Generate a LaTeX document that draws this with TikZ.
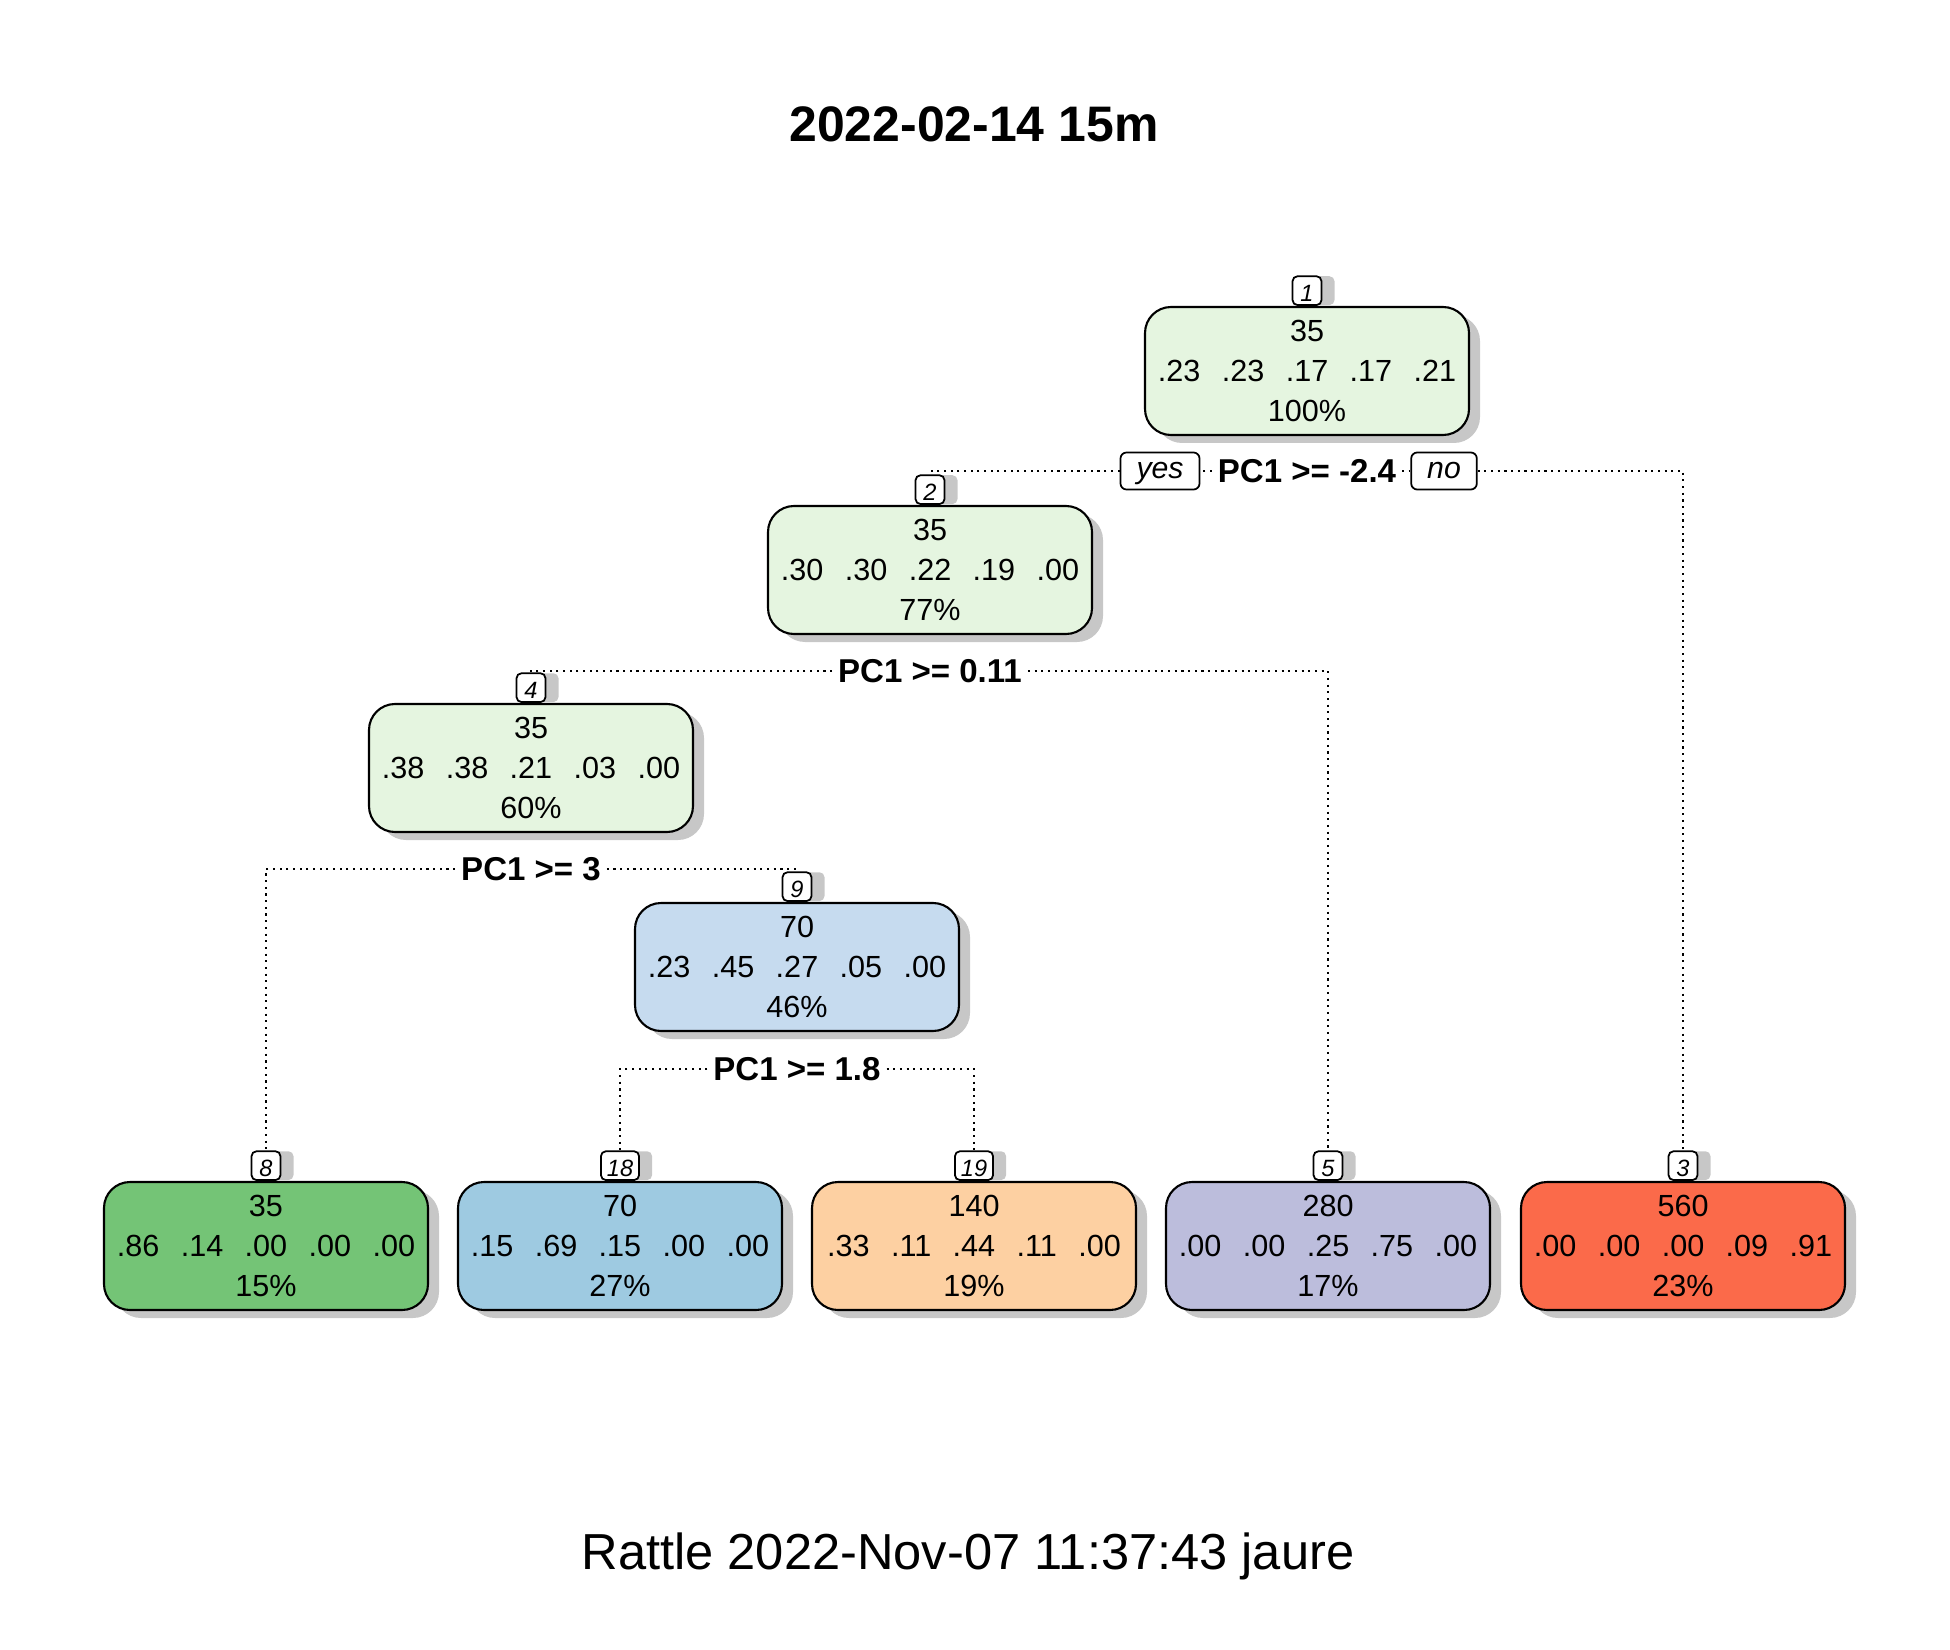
\documentclass[tikz,border=0pt]{standalone}
\usepackage{fontspec}
\setmainfont{Liberation Sans}
\usetikzlibrary{shadows}
\definecolor{palegreen}{HTML}{E5F5E0}
\definecolor{paleblue}{HTML}{C6DBEF}
\definecolor{leafgreen}{HTML}{74C476}
\definecolor{leafblue}{HTML}{9ECAE1}
\definecolor{leaforange}{HTML}{FDD0A2}
\definecolor{leafpurple}{HTML}{BCBDDC}
\definecolor{leafred}{HTML}{FB6A4A}
\newcommand{\gp}{\hspace{0.7em}}
\tikzset{
  treebox/.style={draw, line width=0.6pt, rounded corners=2.6mm, minimum width=32.4mm, minimum height=12.8mm,
    align=center, inner sep=0pt, font=\fontsize{8.7}{11.4}\selectfont,
    drop shadow={shadow xshift=1.1mm, shadow yshift=-0.8mm, fill=black!22, opacity=1}},
  nodenum/.style={draw, fill=white, line width=0.5pt, rounded corners=0.5mm, anchor=south, inner xsep=0.6mm, inner ysep=0pt,
    minimum width=2.9mm, minimum height=2.8mm, text height=0.72em, text depth=0.1em, font=\fontsize{6.7}{8}\selectfont\itshape,
    drop shadow={shadow xshift=1.3mm, shadow yshift=0mm, fill=black!22, opacity=1}},
  splitlabel/.style={fill=white, inner sep=1.5pt, font=\fontsize{9.4}{11}\selectfont\bfseries},
  yesno/.style={draw, fill=white, line width=0.5pt, rounded corners=0.6mm, inner xsep=1.6mm, inner ysep=0pt,
    minimum height=3.7mm, text height=0.62em, text depth=0.2em, font=\fontsize{8.6}{10}\selectfont\itshape},
  edge/.style={dash pattern=on 0.6pt off 1.3pt, line width=0.6pt}
}
\begin{document}
\begin{tikzpicture}[x=0.1mm, y=-0.1mm]
\useasboundingbox (0,0) rectangle (1950,1650);
\node[font=\fontsize{14.2}{16}\selectfont\bfseries] (title) at (974,124) {2022-02-14 15m};
\node[font=\fontsize{14.4}{16}\selectfont] (footer) at (968,1556) {Rattle 2022-Nov-07 11:37:43 jaure};
% inner nodes
\node[treebox, fill=palegreen] (n1) at (1307,371) {35\\.23\gp.23\gp.17\gp.17\gp.21\\100\%};
\node[treebox, fill=palegreen] (n2) at (930,570) {35\\.30\gp.30\gp.22\gp.19\gp.00\\77\%};
\node[treebox, fill=palegreen] (n4) at (531,768) {35\\.38\gp.38\gp.21\gp.03\gp.00\\60\%};
\node[treebox, fill=paleblue] (n9) at (797,967) {70\\.23\gp.45\gp.27\gp.05\gp.00\\46\%};
% leaves
\node[treebox, fill=leafgreen] (n8) at (266,1246) {35\\.86\gp.14\gp.00\gp.00\gp.00\\15\%};
\node[treebox, fill=leafblue] (n18) at (620,1246) {70\\.15\gp.69\gp.15\gp.00\gp.00\\27\%};
\node[treebox, fill=leaforange] (n19) at (974,1246) {140\\.33\gp.11\gp.44\gp.11\gp.00\\19\%};
\node[treebox, fill=leafpurple] (n5) at (1328,1246) {280\\.00\gp.00\gp.25\gp.75\gp.00\\17\%};
\node[treebox, fill=leafred] (n3) at (1683,1246) {560\\.00\gp.00\gp.00\gp.09\gp.91\\23\%};
% node numbers
\node[nodenum] (l1) at (n1.north) {1};
\node[nodenum] (l2) at (n2.north) {2};
\node[nodenum] (l4) at (n4.north) {4};
\node[nodenum] (l9) at (n9.north) {9};
\node[nodenum] (l8) at (n8.north) {8};
\node[nodenum] (l18) at (n18.north) {18};
\node[nodenum] (l19) at (n19.north) {19};
\node[nodenum] (l5) at (n5.north) {5};
\node[nodenum] (l3) at (n3.north) {3};
% splits
\node[splitlabel] (s1) at (1307,471) {PC1 >= -2.4};
\node[yesno] (yes) at (1160,471) {yes};
\node[yesno] (no) at (1444,471) {no};
\node[splitlabel] (s2) at (930,671) {PC1 >= 0.11};
\node[splitlabel] (s4) at (531,869) {PC1 >= 3};
\node[splitlabel] (s9) at (797,1069) {PC1 >= 1.8};
\draw[edge] (s1.west) -- (yes.east);
\draw[edge] (yes.west) -| (l2.north);
\draw[edge] (s1.east) -- (no.west);
\draw[edge] (no.east) -| (l3.north);
\draw[edge] (s2.west) -| (l4.north);
\draw[edge] (s2.east) -| (l5.north);
\draw[edge] (s4.west) -| (l8.north);
\draw[edge] (s4.east) -| (l9.north);
\draw[edge] (s9.west) -| (l18.north);
\draw[edge] (s9.east) -| (l19.north);
\end{tikzpicture}
\end{document}
